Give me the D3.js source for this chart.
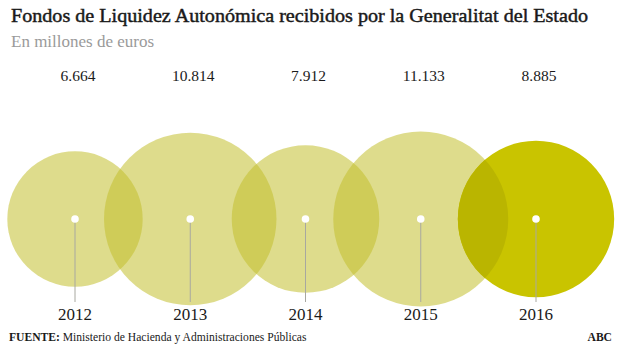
<!DOCTYPE html>
<html>
<head>
<meta charset="utf-8">
<script src="https://cdn.jsdelivr.net/npm/d3@7"></script>
<style>
html,body{margin:0;padding:0;background:#fff;}
svg{display:block;}
text{font-family:"Liberation Serif","DejaVu Serif",serif;}
</style>
</head>
<body>
<svg id="chart" width="620" height="349"></svg>
<script>
const years = ["2012", "2013", "2014", "2015", "2016"];
const values = [6664, 10814, 7912, 11133, 8885];
const valueLabels = ["6.664", "10.814", "7.912", "11.133", "8.885"];
const highlightYear = "2016";
const title = "Fondos de Liquidez Autonómica recibidos por la Generalitat del Estado";
const subtitle = "En millones de euros";
const sourceLabel = "FUENTE:";
const sourceText = " Ministerio de Hacienda y Administraciones Públicas";
const brand = "ABC";

const W = 620, H = 349;
const svg = d3.select("#chart");
const cy = 219;

const x = d3.scalePoint().domain(years).range([75, 536]);
const r = d3.scaleSqrt().domain([0, d3.max(values)]).range([0, 87.5]);

const data = years.map((y, i) => ({year: y, value: values[i], label: valueLabels[i]}));

// title
svg.append("text").attr("x", 11).attr("y", 22)
  .attr("font-size", 19).attr("font-weight", 400).attr("fill", "#1a1a1a")
  .attr("stroke", "#1a1a1a").attr("stroke-width", 0.45)
  .attr("textLength", 577).attr("lengthAdjust", "spacingAndGlyphs")
  .text(title);
svg.append("text").attr("x", 11).attr("y", 47)
  .attr("font-size", 17).attr("fill", "#9a9a9a").text(subtitle);

const defs = svg.append("defs");

// circles
const g = svg.append("g");
g.selectAll("circle.bubble").data(data).join("circle")
  .attr("class", "bubble")
  .attr("cx", d => x(d.year)).attr("cy", cy).attr("r", d => r(d.value))
  .attr("fill", d => d.year === highlightYear ? "#c9c400" : "#c3bf2e")
  .attr("fill-opacity", d => d.year === highlightYear ? 1 : 0.55);

// overlap of highlighted circle with previous circle
const hi = years.indexOf(highlightYear);
if (hi > 0) {
  const prev = data[hi - 1];
  defs.append("clipPath").attr("id", "prevClip")
    .append("circle").attr("cx", x(prev.year)).attr("cy", cy).attr("r", r(prev.value));
  g.append("circle")
    .attr("cx", x(data[hi].year)).attr("cy", cy).attr("r", r(data[hi].value))
    .attr("clip-path", "url(#prevClip)")
    .attr("fill", "#bab500");
}

// stems
g.selectAll("line.stem").data(data).join("line")
  .attr("class", "stem")
  .attr("x1", d => x(d.year)).attr("x2", d => x(d.year))
  .attr("y1", cy).attr("y2", 302)
  .attr("stroke", "#a8a8a0").attr("stroke-width", 1);

// dots
g.selectAll("circle.dot").data(data).join("circle")
  .attr("class", "dot")
  .attr("cx", d => x(d.year)).attr("cy", cy).attr("r", 3.8)
  .attr("fill", "#ffffff");

// value labels
svg.selectAll("text.val").data(data).join("text")
  .attr("class", "val")
  .attr("x", d => x(d.year) + 3).attr("y", 81)
  .attr("text-anchor", "middle").attr("font-size", 15.5).attr("fill", "#1a1a1a")
  .text(d => d.label);

// year labels
svg.selectAll("text.yr").data(data).join("text")
  .attr("class", "yr")
  .attr("x", d => x(d.year)).attr("y", 320)
  .attr("text-anchor", "middle").attr("font-size", 17).attr("fill", "#1a1a1a")
  .text(d => d.year);

// footer
const ft = svg.append("text").attr("x", 9).attr("y", 341).attr("font-size", 11.6).attr("fill", "#1a1a1a");
ft.append("tspan").attr("font-weight", 700).text(sourceLabel);
ft.append("tspan").text(sourceText);
svg.append("text").attr("x", 612).attr("y", 341).attr("text-anchor", "end")
  .attr("font-size", 11.6).attr("font-weight", 700).attr("fill", "#1a1a1a").text(brand);
</script>
</body>
</html>
